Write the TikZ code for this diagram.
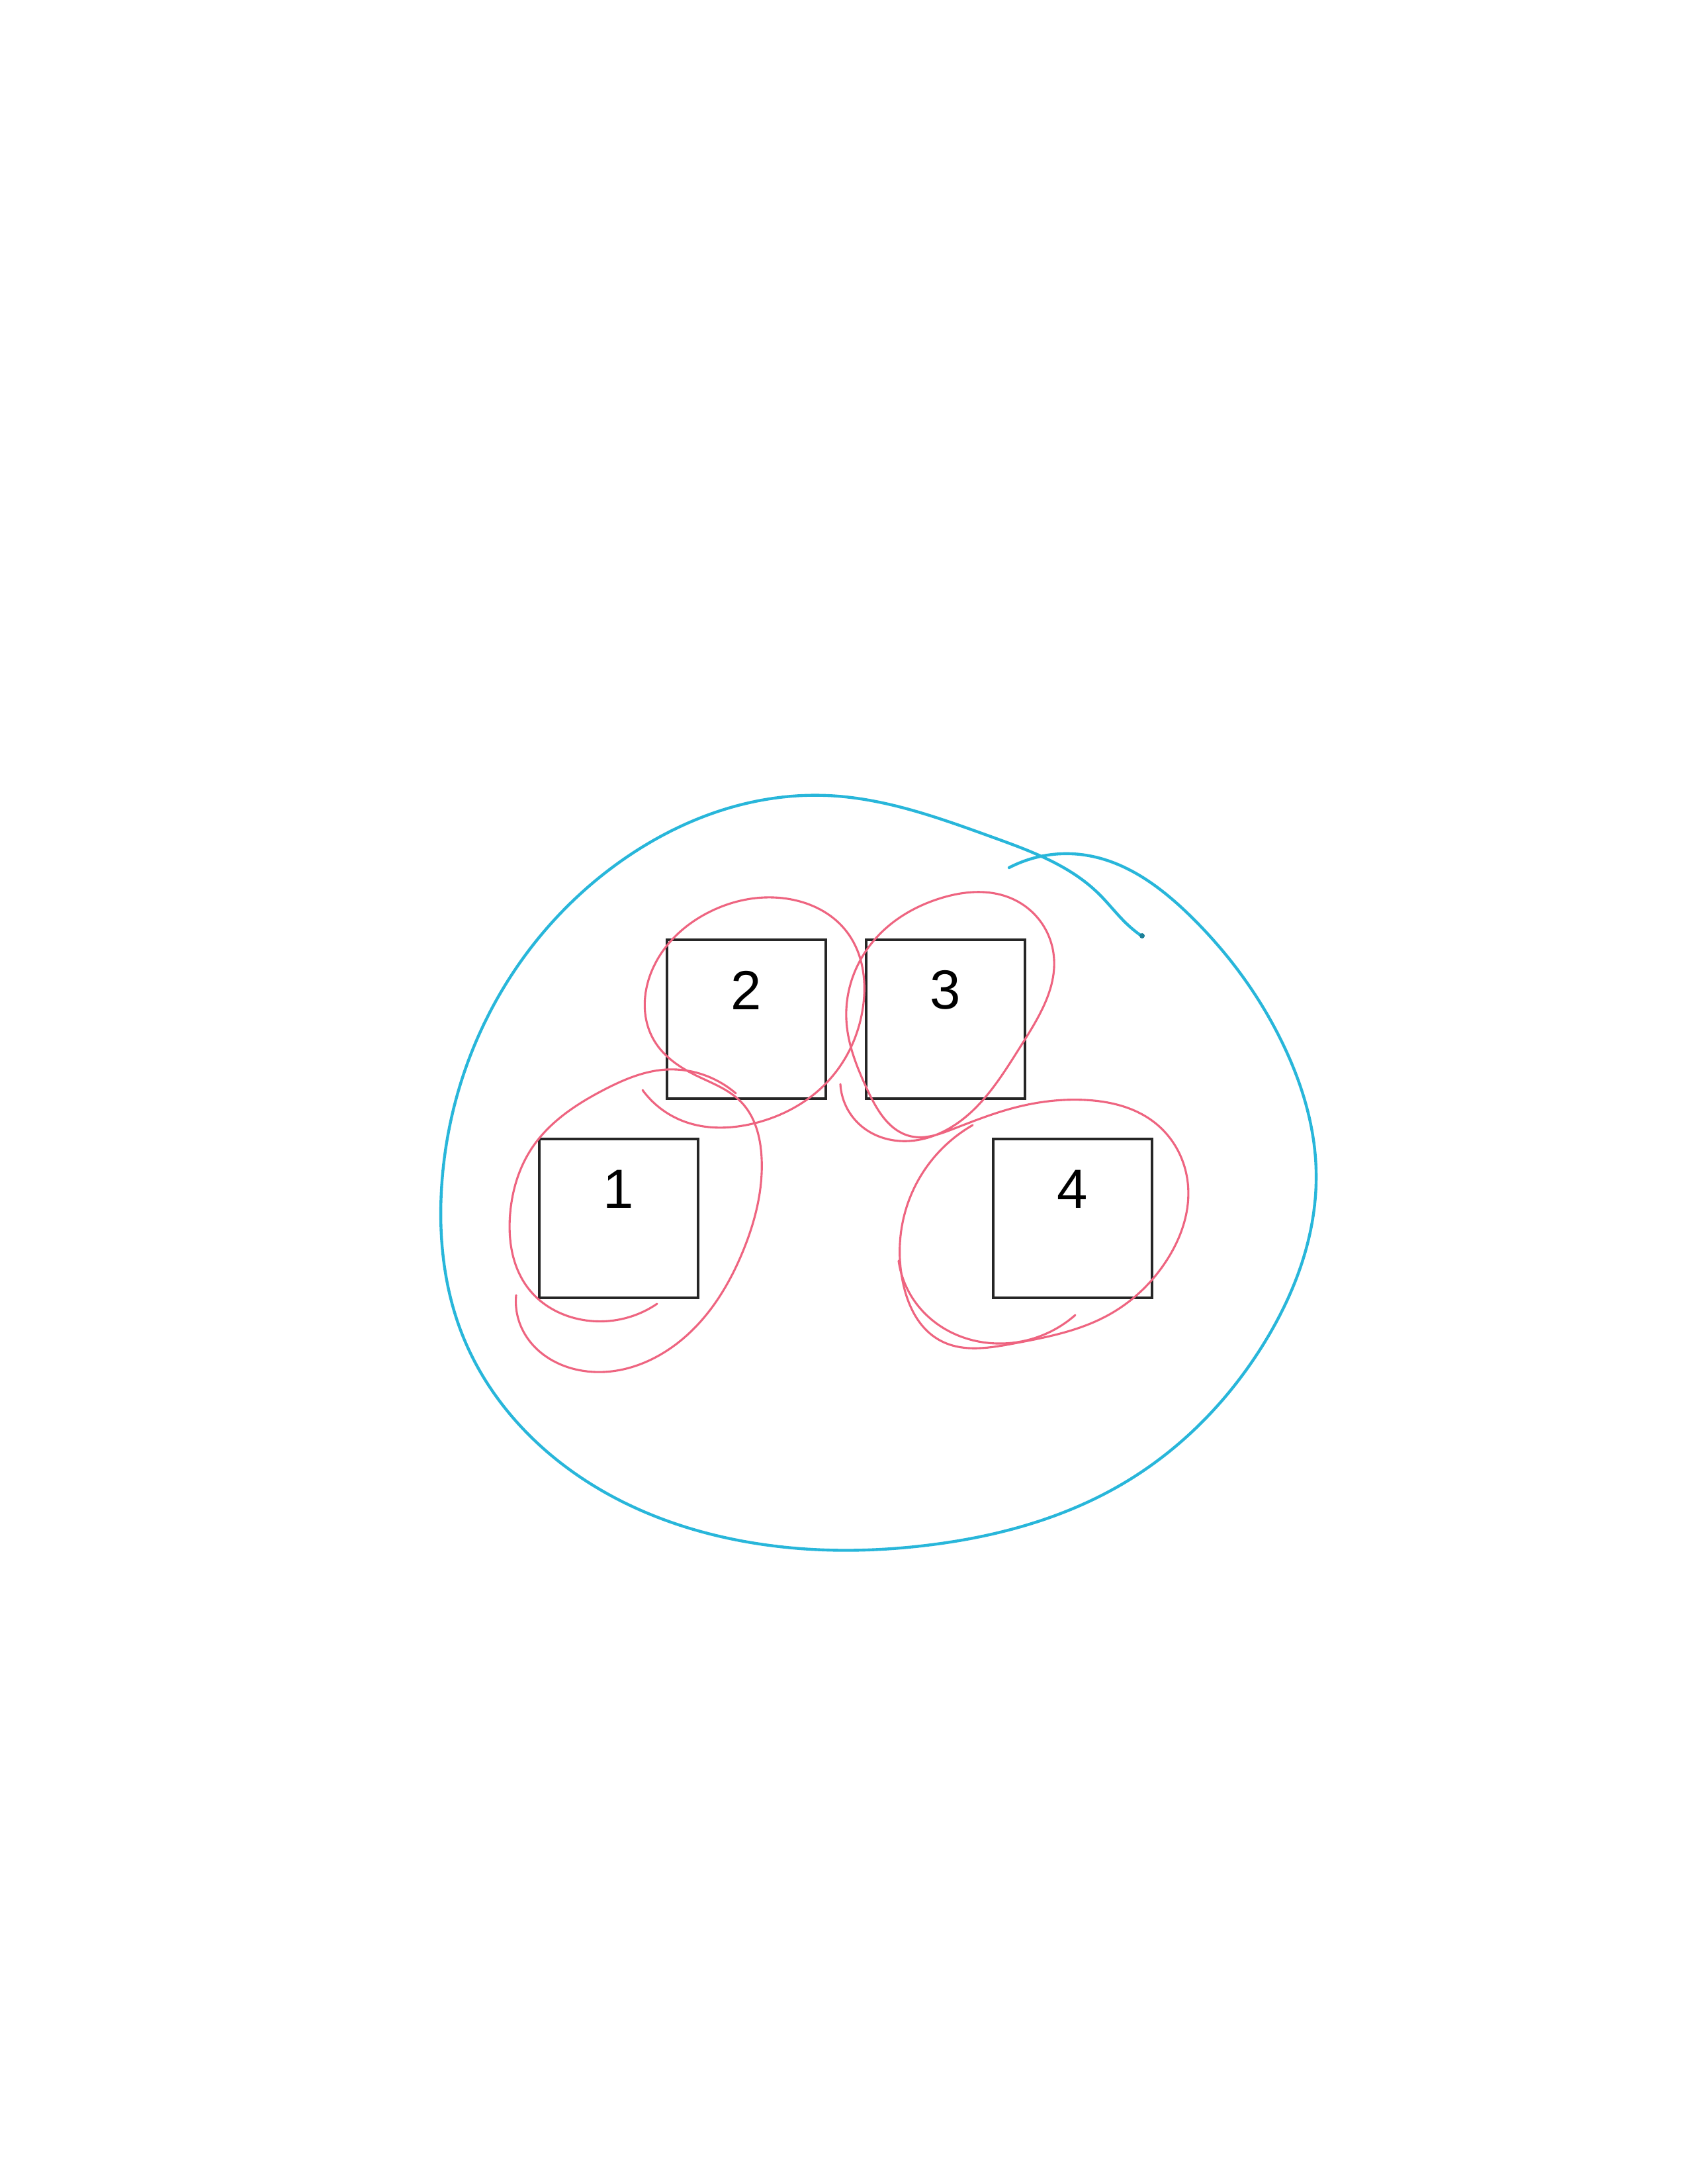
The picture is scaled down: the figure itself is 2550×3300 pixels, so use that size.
\documentclass[tikz,border=0pt]{standalone}
\usepackage{fontspec}
\setmainfont{Liberation Sans}
\usetikzlibrary{calc,hobby}
\definecolor{penblue}{RGB}{40,182,218}
\definecolor{penred}{RGB}{238,100,128}
\begin{document}
\begin{tikzpicture}[x=0.24pt,y=-0.24pt,
  box/.style={draw=black!85,line width=0.9pt,minimum size=57.6pt,inner sep=0pt},
  lbl/.style={font=\fontsize{20}{23}\selectfont,inner sep=0pt},
  blueink/.style={draw=penblue,line width=1.05pt,line cap=round,line join=round,use Hobby shortcut},
  redink/.style={draw=penred,line width=0.75pt,line cap=round,line join=round,use Hobby shortcut}]
\useasboundingbox[fill=white] (0,0) rectangle (2550,3300);

% outer blue outline
\draw[blueink] (1525,1311) .. (1640,1292) .. (1800,1385) .. (1940,1580) .. (1989,1770)
 .. (1910,2030) .. (1700,2240) .. (1400,2335) .. (1130,2330) .. (860,2220) .. (700,2020)
 .. (667,1800) .. (740,1530) .. (940,1300) .. (1250,1202) .. (1500,1265) .. (1660,1350)
 .. (1705,1398) .. (1725,1414);
\fill[penblue!70!black] (1726,1414) circle (4);

% boxes
\node[box] (b2) at (1128,1540) {};
\node[box] (b3) at (1429,1540) {};
\node[box] (b1) at (935,1841) {};
\node[box] (b4) at (1621,1841) {};
\node[lbl] (l2) at ($(b2.north)+(0,78)$) {2};
\node[lbl] (l3) at ($(b3.north)+(0,78)$) {3};
\node[lbl] (l1) at ($(b1.north)+(0,78)$) {1};
\node[lbl] (l4) at ($(b4.north)+(0,78)$) {4};

% red loop around 2 running into loop around 1
\draw[redink] (971,1647) .. (1030,1693) .. (1141,1697) .. (1252,1633) .. (1304,1523)
 .. (1279,1407) .. (1190,1358) .. (1074,1377) .. (985,1467) .. (989,1573) .. (1052,1625)
 .. (1120,1665) .. (1151,1750) .. (1123,1890) .. (1027,2027) .. (874,2070) .. (790,2010)
 .. (780,1957);
\draw[redink] (993,1970) .. (874,1993) .. (801,1950) .. (771,1833) .. (805,1733)
 .. (912,1647) .. (1008,1616) .. (1084,1633) .. (1112,1652);

% red loop around 3 running into loop around 4
\draw[redink] (1270,1638) .. (1300,1700) .. (1360,1724) .. (1431,1707) .. (1543,1580)
 .. (1592,1440) .. (1534,1360) .. (1422,1357) .. (1319,1423) .. (1279,1540) .. (1311,1647)
 .. (1377,1717) .. (1440,1706) .. (1532,1674) .. (1640,1662) .. (1746,1697) .. (1795,1787)
 .. (1764,1903) .. (1675,1987) .. (1532,2030) .. (1420,2025) .. (1365,1940) .. (1375,1810)
 .. (1470,1700);
\draw[redink] (1358,1905) .. (1389,1975) .. (1514,2030) .. (1625,1987);
\end{tikzpicture}
\end{document}
